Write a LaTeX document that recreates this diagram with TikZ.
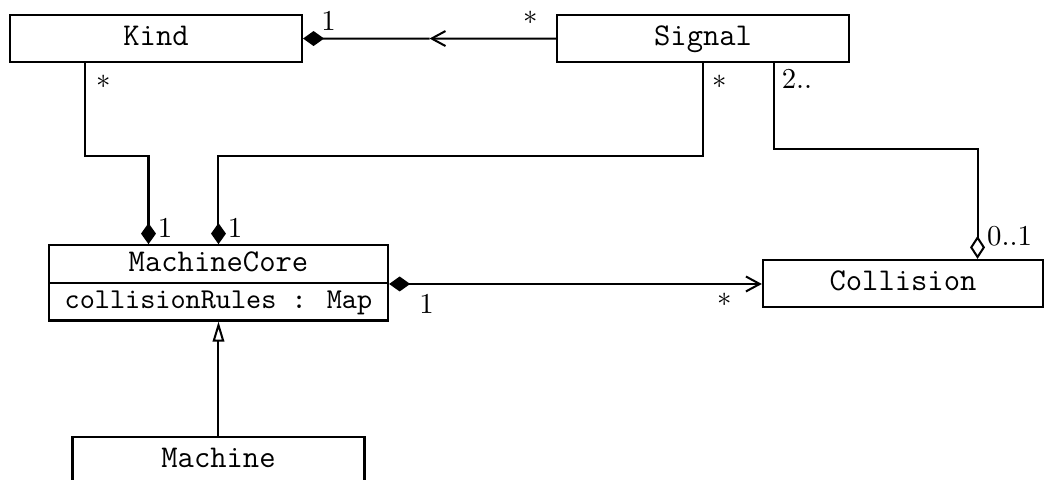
\documentclass[tikz,border=0pt]{standalone}
\usepackage{tikz}
\usetikzlibrary{arrows.meta, positioning, calc}

\begin{document}
\begin{tikzpicture}[
        node distance=0.5cm,
        classbox/.style={
            draw,
            line width=0.8pt,
            minimum width=3.56cm,
            minimum height=0.574cm,
            inner sep=0pt,
            text height=1.6ex,
            text depth=0.45ex,
            font=\ttfamily\fontsize{11pt}{13pt}\selectfont
        },
        corebox/.style={classbox, minimum width=4.137cm, minimum height=0.458cm},
        attrbox/.style={corebox, font=\ttfamily\fontsize{10pt}{12pt}\selectfont},
        mult/.style={inner sep=0pt},
        link/.style={line width=0.7pt},
        comp/.style={link, {Diamond[length=7.3pt, width=5.2pt]}-},
        agg/.style={link, {Diamond[open, length=8pt, width=5.2pt]}-},
        nav/.style={link, -{Straight Barb[length=4.8pt, width=5.2pt]}},
        compnav/.style={link, {Diamond[length=7.3pt, width=5.2pt]}-{Straight Barb[length=4.8pt, width=5.2pt]}},
        inherit/.style={link, -{Triangle[open, length=7pt, width=4pt]}}
    ]

        \useasboundingbox (0,0) rectangle (12.764,-5.845);

        % Classes
        \node[classbox] (kind) at (1.904,-0.470) {Kind};

        \node[classbox, right=3.087cm of kind]
            (signal) {Signal};

        \node[corebox] (mcore) at (2.666,-3.222) {MachineCore};

        \node[attrbox, below=-0.8pt of mcore]
            (mattr) {collisionRules : Map};

        \node[classbox, minimum width=3.417cm]
            (collision) at (11.019,-3.460) {Collision};

        \node[classbox, below=1.391cm of mattr]
            (machine) {Machine};

        % Points d'attache
        \coordinate (kindleg) at ($(kind.south west)!0.26!(kind.south east)$);
        \coordinate (mckind) at ($(mcore.north west)!0.295!(mcore.north east)$);
        \coordinate (sigleg) at ($(signal.south west)!0.741!(signal.south east)$);
        \coordinate (colleg) at ($(collision.north west)!0.764!(collision.north east)$);
        \coordinate (barb) at ($(kind.east)!0.5!(signal.west)$);

        % Associations
        \draw[comp] (kind.east) -- (barb);
        \draw[nav] (signal.west) -- (barb);

        \draw[comp] (mckind) -- ++(0,1.074) -| (kindleg);
        \draw[comp] (mcore.north) -- ++(0,1.074) -| (signal.south);

        \draw[agg] (colleg) -- ++(0,1.342) -| (sigleg);

        \draw[compnav] (mcore.south east) -- (mcore.south east -| collision.west);

        % Heritage
        \draw[inherit] (machine.north) -- (mattr.south);

        % Multiplicites
        \node[mult] (kindone) at ($(kind.east)+(0.311,0.214)$) {$1$};
        \node[mult] (signalmany) at ($(signal.west)+(-0.305,0.255)$) {$*$};
        \node[mult] (kindmany) at ($(kindleg)+(0.220,-0.232)$) {$*$};
        \node[mult] (mckindone) at ($(mckind)+(0.201,0.189)$) {$1$};
        \node[mult] (mcsigone) at ($(mcore.north)+(0.201,0.189)$) {$1$};
        \node[mult] (sigmany) at ($(signal.south)+(0.207,-0.232)$) {$*$};
        \node[mult] (sigtwo) at ($(sigleg)+(0.281,-0.195)$) {2..};
        \node[mult] (colopt) at ($(colleg)+(0.390,0.275)$) {0..1};
        \node[mult] (mcone) at ($(mcore.south east)+(0.458,-0.250)$) {$1$};
        \node[mult] (colmany) at ($(collision.west)+(-0.452,-0.201)$) {$*$};

    \end{tikzpicture}
\end{document}
